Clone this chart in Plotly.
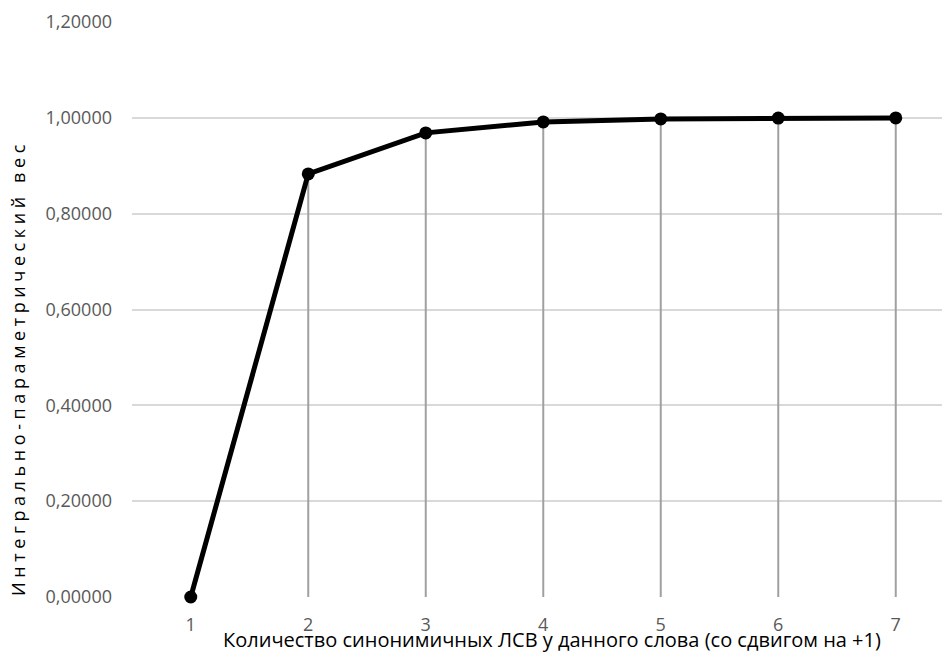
import plotly.graph_objects as go

# Number of synonymous lexical-semantic variants (shifted by +1) and the integral-parametric weight
counts = [1, 2, 3, 4, 5, 6, 7]
weights = [0.0, 0.8829, 0.9686, 0.9915, 0.9978, 0.9994, 0.9999]
y_ticks = [0.0, 0.2, 0.4, 0.6, 0.8, 1.0, 1.2]
y_tick_text = ["0,00000", "0,20000", "0,40000", "0,60000", "0,80000", "1,00000", "1,20000"]

x_title = "Количество синонимичных ЛСВ у данного слова (со сдвигом на +1)"
y_title = "Интегрально-параметрический вес"

W, H = 942, 652
L, R, T, B = 132, 0, 22, 55

FONT = "Open Sans"

# vertical drop lines from each point down to the category axis
drop_x, drop_y = [], []
for c, w in zip(counts, weights):
    drop_x += [c, c, None]
    drop_y += [0, w, None]

fig = go.Figure()
fig.add_trace(go.Scatter(
    x=drop_x, y=drop_y, mode="lines",
    line=dict(color="#a0a0a0", width=2),
    hoverinfo="skip", showlegend=False,
))
fig.add_trace(go.Scatter(
    x=counts, y=weights, mode="lines+markers",
    line=dict(color="#000000", width=5),
    marker=dict(color="#000000", size=13),
    cliponaxis=False,
    showlegend=False,
))

plot_w = W - L - R
plot_h = H - T - B
px_per_unit = 117.5
x_max = 0.5 + plot_w / px_per_unit

fig.update_layout(
    width=W, height=H,
    margin=dict(l=L, r=R, t=T, b=B, pad=0),
    paper_bgcolor="white", plot_bgcolor="white",
    font=dict(family=FONT, color="#595959", size=18),
    xaxis=dict(
        range=[0.5, x_max], tickmode="array", tickvals=counts,
        ticktext=[str(c) for c in counts],
        showgrid=False, zeroline=False, showline=False, ticks="",
        ticklabelstandoff=15,
        tickfont=dict(family=FONT, size=18, color="#595959"),
    ),
    yaxis=dict(
        range=[0, 1.2], tickmode="array", tickvals=y_ticks, ticktext=y_tick_text,
        showgrid=True, gridcolor="#d9d9d9", gridwidth=1.5,
        zeroline=False, showline=False, ticks="",
        ticklabelstandoff=19,
        tickfont=dict(family=FONT, size=18, color="#595959"),
    ),
    annotations=[
        dict(
            text=x_title, xref="paper", yref="paper",
            x=(552 - L) / plot_w, y=(H - B - 639) / plot_h,
            xanchor="center", yanchor="middle", showarrow=False,
            font=dict(family=FONT, size=20, color="#000000"),
        ),
        dict(
            text='<span style="letter-spacing:4.6px">' + y_title + "</span>",
            xref="paper", yref="paper",
            x=(18 - L) / plot_w, y=(H - B - 368) / plot_h,
            xanchor="center", yanchor="middle", textangle=-90, showarrow=False,
            font=dict(family=FONT, size=18, color="#000000"),
        ),
    ],
)

fig.write_html("out.html")
